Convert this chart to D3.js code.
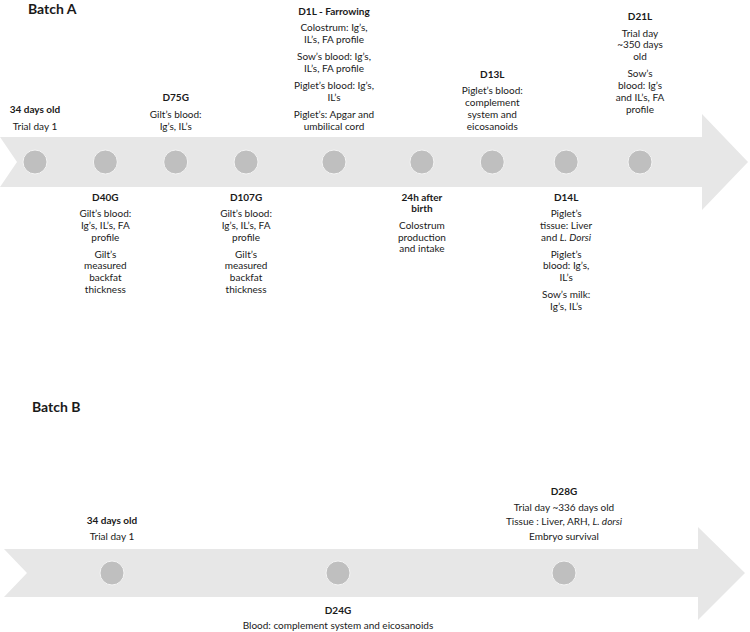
<!DOCTYPE html>
<html><head><meta charset="utf-8">
<script src="https://cdn.jsdelivr.net/npm/d3@7"></script>
<style>
body{margin:0;background:#fff;}
svg text{font-family:Lato,"Open Sans",sans-serif;fill:#1a1a1a;}
</style></head>
<body><svg id="c" width="750" height="632"></svg>
<script>
// ---------- DATA ----------
const batchNames = ["Batch A", "Batch B"];

// Batch A timeline events (step = position along timeline, side = label above/below)
const batchASteps = [0, 1, 2, 3, 4.25, 5.5, 6.5, 7.55, 8.6];
const batchATitles = ["34 days old", "D40G", "D75G", "D107G", "D1L - Farrowing", "24h after|birth", "D13L", "D14L", "D21L"];
const batchASides = ["top", "bottom", "top", "bottom", "top", "bottom", "top", "bottom", "top"];
const batchAText = [
  [["Trial day 1"]],
  [["Gilt’s blood:", "Ig’s, IL’s, FA", "profile"], ["Gilt’s", "measured", "backfat", "thickness"]],
  [["Gilt’s blood:", "Ig’s, IL’s"]],
  [["Gilt’s blood:", "Ig’s, IL’s, FA", "profile"], ["Gilt’s", "measured", "backfat", "thickness"]],
  [["Colostrum: Ig’s,", "IL’s, FA profile"], ["Sow’s blood: Ig’s,", "IL’s, FA profile"], ["Piglet’s blood: Ig’s,", "IL’s"], ["Piglet’s: Apgar and", "umbilical cord"]],
  [["Colostrum", "production", "and intake"]],
  [["Piglet’s blood:", "complement", "system and", "eicosanoids"]],
  [["Piglet’s", "tissue: Liver", "and *L. Dorsi*"], ["Piglet’s", "blood: Ig’s,", "IL’s"], ["Sow’s milk:", "Ig’s, IL’s"]],
  [["Trial day", "~350 days", "old"], ["Sow’s", "blood: Ig’s", "and IL’s, FA", "profile"]]
];

// Batch B timeline events
const batchBSteps = [0, 1, 2];
const batchBTitles = ["34 days old", "D24G", "D28G"];
const batchBSides = ["top", "bottom", "top"];
const batchBText = [
  [["Trial day 1"]],
  [["Blood: complement system and eicosanoids"]],
  [["Trial day ~336 days old"], ["Tissue : Liver, ARH, *L. dorsi*"], ["Embryo survival"]]
];

// ---------- LAYOUT ----------
const svg = d3.select("#c");
const FS = 10;

const layouts = [
  { name: batchNames[0], labelX: 28, labelY: 9,
    bandTop: 137, bandBot: 187, left: 0, notch: 17, bodyEnd: 702, headTop: 114, headBot: 210, tip: 748,
    x: d3.scaleLinear().domain([0, 8.6]).range([35, 640]),
    steps: batchASteps, titles: batchATitles, sides: batchASides, texts: batchAText,
    topBottom: 126, botTop: 197, lineH: 11.8, groupGap: 17, titleGap: 16.5,
    topLift: { "D21L": 17 } },
  { name: batchNames[1], labelX: 32, labelY: 407,
    bandTop: 549, bandBot: 597, left: 4, notch: 27, bodyEnd: 698, headTop: 527, headBot: 620, tip: 745,
    x: d3.scaleLinear().domain([0, 2]).range([112, 564]),
    steps: batchBSteps, titles: batchBTitles, sides: batchBSides, texts: batchBText,
    topBottom: 536, botTop: 610, lineH: 12, groupGap: 14.5, titleGap: 15.5,
    topLift: {} }
];

function addRich(textSel, str) {
  const parts = str.split("*");
  parts.forEach((p, i) => {
    if (!p) return;
    textSel.append("tspan").text(p).attr("font-style", i % 2 ? "italic" : null);
  });
}

layouts.forEach(L => {
  const cy = (L.bandTop + L.bandBot) / 2;
  const g = svg.append("g");
  // batch label
  g.append("text").attr("x", L.labelX).attr("y", L.labelY).attr("dy", "0.35em")
    .attr("font-size", 14).attr("font-weight", "bold").text(L.name);
  // arrow
  const pts = [[L.left, L.bandTop], [L.bodyEnd, L.bandTop], [L.bodyEnd, L.headTop], [L.tip, cy],
    [L.bodyEnd, L.headBot], [L.bodyEnd, L.bandBot], [L.left, L.bandBot], [L.notch, cy]];
  g.append("path").attr("d", d3.line()(pts) + "Z").attr("fill", "#e7e7e7");

  const events = L.steps.map((s, i) => ({ step: s, title: L.titles[i], side: L.sides[i], groups: L.texts[i] }));
  g.selectAll("circle.ev").data(events).join("circle").attr("class", "ev")
    .attr("cx", d => L.x(d.step)).attr("cy", cy).attr("r", 12)
    .attr("fill", "#bfbfbf").attr("stroke", "#f4f4f4").attr("stroke-width", 1);

  events.forEach(ev => {
    const lines = [];
    let y = 0;
    ev.title.split("|").forEach((t, k) => {
      if (k > 0) y += L.lineH;
      lines.push({ t, y, bold: true });
    });
    ev.groups.forEach(grp => {
      grp.forEach((t, k) => {
        y += (k === 0 ? (lines.length && lines[lines.length - 1].bold ? L.titleGap : L.groupGap) : L.lineH);
        lines.push({ t, y, bold: false });
      });
    });
    let y0;
    if (ev.side === "top") {
      y0 = L.topBottom - y - (L.topLift[ev.title] || 0);
    } else {
      y0 = L.botTop;
    }
    const cx = L.x(ev.step);
    lines.forEach(ln => {
      const t = g.append("text").attr("x", cx).attr("y", y0 + ln.y).attr("dy", "0.35em")
        .attr("text-anchor", "middle").attr("font-size", FS)
        .attr("font-weight", ln.bold ? "bold" : null);
      addRich(t, ln.t);
    });
  });
});
</script></body></html>
